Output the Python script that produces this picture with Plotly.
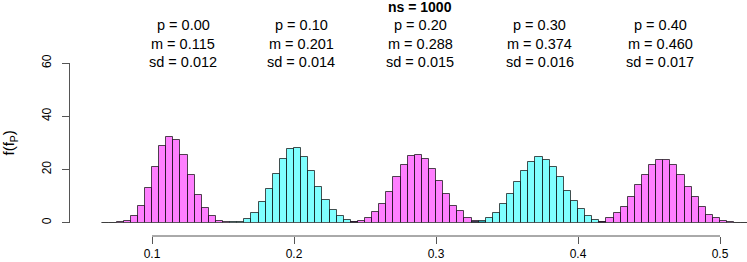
import plotly.graph_objects as go

# densities per 0.005-wide bin, first bin starts at the value in bin_starts
bin_width = 0.005
bin_starts = [0.065, 0.155, 0.240, 0.325, 0.415]
dens_p00 = [0, 0, 0.2, 0.8, 2.6, 6.4, 13.0, 21.0, 28.8, 32.2, 31.0, 25.4, 18.0, 10.4, 5.4, 2.4, 0.8, 0.2]
dens_p10 = [0.2, 0.4, 1.4, 3.8, 7.6, 12.6, 18.2, 24.0, 27.6, 28.0, 24.6, 19.6, 13.4, 8.6, 4.8, 2.4, 1.0, 0.4]
dens_p20 = [0.2, 0.8, 1.8, 4.0, 7.2, 11.6, 17.2, 21.6, 25.0, 25.6, 24.0, 20.2, 15.6, 10.8, 6.4, 4.4, 1.6, 0.8, 0.2]
dens_p30 = [0.2, 0.6, 1.8, 3.8, 7.0, 10.6, 15.4, 19.6, 22.8, 24.8, 23.6, 21.0, 17.0, 12.0, 8.0, 5.0, 2.6, 1.0, 0.4]
dens_p40 = [0.4, 1.8, 3.6, 6.0, 9.6, 14.0, 18.0, 21.8, 23.4, 23.4, 21.6, 18.0, 13.6, 9.6, 6.0, 3.0, 1.6, 0.8, 0.2, 0, 0]
densities = [dens_p00, dens_p10, dens_p20, dens_p30, dens_p40]

p_labels = ["0.00", "0.10", "0.20", "0.30", "0.40"]
m_labels = ["0.115", "0.201", "0.288", "0.374", "0.460"]
sd_labels = ["0.012", "0.014", "0.015", "0.016", "0.017"]
label_x = [0.122, 0.205, 0.289, 0.373, 0.458]

x_ticks = [0.1, 0.2, 0.3, 0.4, 0.5]
y_ticks = [0, 20, 40, 60]

fills = ["rgba(255,0,255,0.5)", "rgba(0,255,255,0.5)"]
edge = "rgba(20,20,20,0.75)"
font = "Liberation Sans, Arial, sans-serif"

# plot area: paper y=1 at pixel 63, y=0 at pixel 236
def py(pix):
    return (236 - pix) / 173

fig = go.Figure()

for i, dens in enumerate(densities):
    start = bin_starts[i]
    centers = [start + (k + 0.5) * bin_width for k in range(len(dens))]
    fig.add_trace(go.Bar(
        x=centers, y=dens, width=bin_width,
        marker=dict(color=fills[i % 2], line=dict(color=edge, width=1)),
        showlegend=False,
    ))
    # flat base of the histogram (empty bins included)
    fig.add_trace(go.Scatter(
        x=[start, start + len(dens) * bin_width], y=[0, 0],
        mode="lines", line=dict(color="rgba(60,60,60,0.7)", width=1),
        showlegend=False, hoverinfo="skip",
    ))

for i in range(len(p_labels)):
    for txt, pix in [("p = " + p_labels[i], 25), ("m = " + m_labels[i], 44), ("sd = " + sd_labels[i], 62)]:
        fig.add_annotation(x=label_x[i], y=py(pix), xref="x", yref="paper", text=txt,
                           yanchor="middle", showarrow=False,
                           font=dict(size=14.5, color="black", family=font))

fig.add_annotation(x=0.2887, y=py(7), xref="x", yref="paper", text="<b>ns = 1000</b>",
                   yanchor="middle", showarrow=False, font=dict(size=14, color="black", family=font))

# R style x axis line, only between the outer ticks
fig.add_shape(type="line", xref="x", yref="paper", x0=x_ticks[0], x1=x_ticks[-1], y0=0, y1=0,
              line=dict(color="#555", width=1))

fig.update_layout(
    width=747, height=262,
    margin=dict(l=70, r=0, t=63, b=26),
    barmode="overlay", bargap=0,
    plot_bgcolor="white", paper_bgcolor="white",
    font=dict(family=font, color="black"),
    xaxis=dict(range=[0.1 - 82 / 1420, 0.1 + 677 / 1420 - 82 / 1420], anchor="free", position=0,
               tickvals=x_ticks, ticktext=[str(v) for v in x_ticks], automargin=False,
               ticks="outside", ticklen=7, tickcolor="#555", showline=False,
               showgrid=False, zeroline=False, tickfont=dict(size=12)),
    yaxis=dict(range=[0, 60], domain=[py(222.7), 1], tickvals=y_ticks, automargin=False,
               ticks="outside", ticklen=7, tickcolor="#555", tickangle=-90,
               ticklabelstandoff=6,
               showline=True, linecolor="#555", showgrid=False, zeroline=False,
               tickfont=dict(size=12),
               title=dict(text="f(f<sub>P</sub>)", font=dict(size=15), standoff=21)),
)

# drop the browser's default body margin so the figure sits at the page corner
fig.write_html("out.html", config={"displayModeBar": False},
               post_script="document.body.style.margin='0';")
